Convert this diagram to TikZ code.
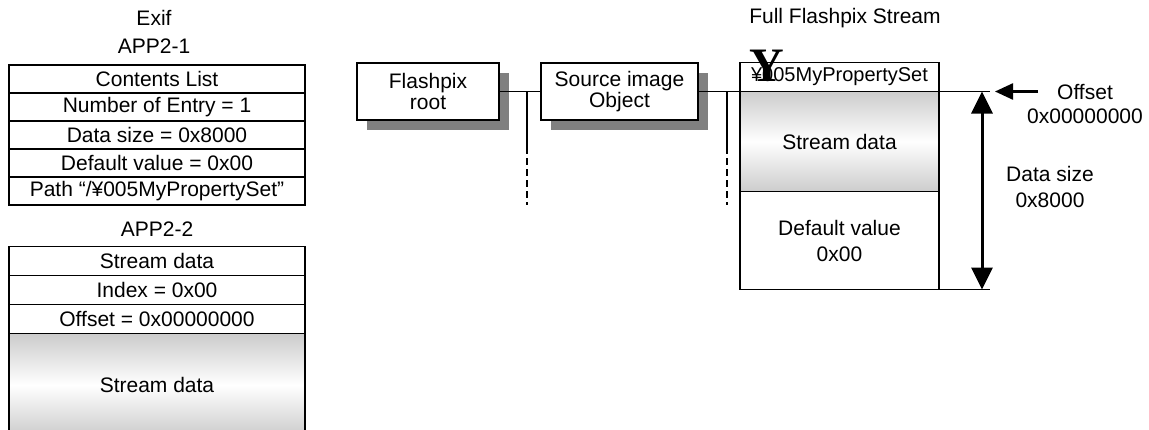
\documentclass[tikz,border=0pt]{standalone}
\usepackage{fontspec}
\setmainfont{Liberation Sans}
\newfontfamily\serifface{Liberation Serif}
\usetikzlibrary{positioning,arrows.meta,shadows}

\begin{document}
\begin{tikzpicture}[
  x=1pt, y=-1pt,
  txt/.style={font=\fontsize{21}{25}\selectfont, inner sep=0pt, align=center},
  cell/.style={draw, line width=1.2pt, outer sep=0pt, inner sep=0pt, minimum width=296pt, minimum height=28pt, align=center, font=\fontsize{21}{25}\selectfont},
  tube/.style={top color=gray!40, bottom color=gray!40, middle color=white},
  fpbox/.style={draw, line width=1.2pt, fill=white, outer sep=0pt, inner sep=0pt, align=center, minimum width=142pt, minimum height=57pt, font=\fontsize{21}{21}\selectfont, drop shadow={shadow xshift=10pt, shadow yshift=-10pt, fill=gray, opacity=1}},
  conn/.style={line width=1.3pt},
  arr/.style={-{Triangle[length=18pt, width=16pt]}, line width=2.5pt},
  darr/.style={{Triangle[length=22pt, width=21pt]}-{Triangle[length=22pt, width=21pt]}, line width=3pt}]
  \useasboundingbox (0,0) rectangle (1149,429);
  % Exif side
  \node[txt] (exif) at (154,18) {Exif};
  \node[txt] (app1) at (154,46) {APP2-1};
  \node[cell, anchor=north west] (c1) at (9,65) {Contents List};
  \node[cell, below=0pt of c1] (c2) {Number of Entry = 1};
  \node[cell, below=0pt of c2] (c3) {Data size = 0x8000};
  \node[cell, below=0pt of c3] (c4) {Default value = 0x00};
  \node[cell, below=0pt of c4] (c5) {Path “/¥005MyPropertySet”};
  \node[txt] (app2) at (157,229) {APP2-2};
  \node[cell, anchor=north west, minimum height=29pt] (d1) at (9,246.5) {Stream data};
  \node[cell, below=0pt of d1, minimum height=29pt] (d2) {Index = 0x00};
  \node[cell, below=0pt of d2, minimum height=29pt] (d3) {Offset = 0x00000000};
  \node[cell, tube, below=0pt of d3, minimum height=102pt] (d4) {Stream data};
  % Flashpix tree
  \node[fpbox, anchor=north west] (root) at (357,63) {Flashpix\\root};
  \node[fpbox, anchor=north west, minimum width=157pt] (src) at (541,63) {Source image\\Object};
  % full stream
  \node[txt] (full) at (845,18) {Full Flashpix Stream};
  \node[cell, anchor=north west, minimum width=199pt, minimum height=29pt, font=\fontsize{20}{24}\selectfont] (hdr) at (740,62.5) {¥005MyPropertySet};
  \node[cell, tube, below=0pt of hdr, minimum width=199pt, minimum height=100pt] (sdata) {Stream data};
  \node[cell, below=0pt of sdata, minimum width=199pt, minimum height=98pt, font=\fontsize{21}{26}\selectfont] (dval) {Default value\\0x00};
  \node[font=\serifface\bfseries\fontsize{48}{48}\selectfont, inner sep=0pt] (bigy) at (767,66) {Y};
  \node[txt, font=\fontsize{21}{24}\selectfont] (offlab) at (1085,104) {Offset\\0x00000000};
  \node[txt, font=\fontsize{21}{26}\selectfont] (sizelab) at (1050,187) {Data size\\0x8000};

  \coordinate (b1) at (527,147); \coordinate (b1end) at (527,205);
  \coordinate (b2) at (727,147); \coordinate (b2end) at (727,205);
  \coordinate (offend) at (990,91.5); \coordinate (botend) at (990,289.5);
  \coordinate (sztop) at (982,91.5); \coordinate (szbot) at (982,289.5);
  \coordinate (offtail) at (1038,91.5); \coordinate (offtip) at (995,91.5);

  \draw[conn] (root.east) -- (src.west);
  \draw[conn] (src.east) -- (offend);
  \draw[conn] (b1 |- root.east) -- (b1);
  \draw[conn] (b2 |- src.east) -- (b2);
  \draw[conn, dash pattern=on 7pt off 4pt] (b1) -- (b1end);
  \draw[conn, dash pattern=on 7pt off 4pt] (b2) -- (b2end);
  \draw[conn] (dval.south east) -- (botend);
  \draw[darr] (sztop) -- (szbot);
  \draw[arr] (offtail) -- (offtip);
\end{tikzpicture}
\end{document}
